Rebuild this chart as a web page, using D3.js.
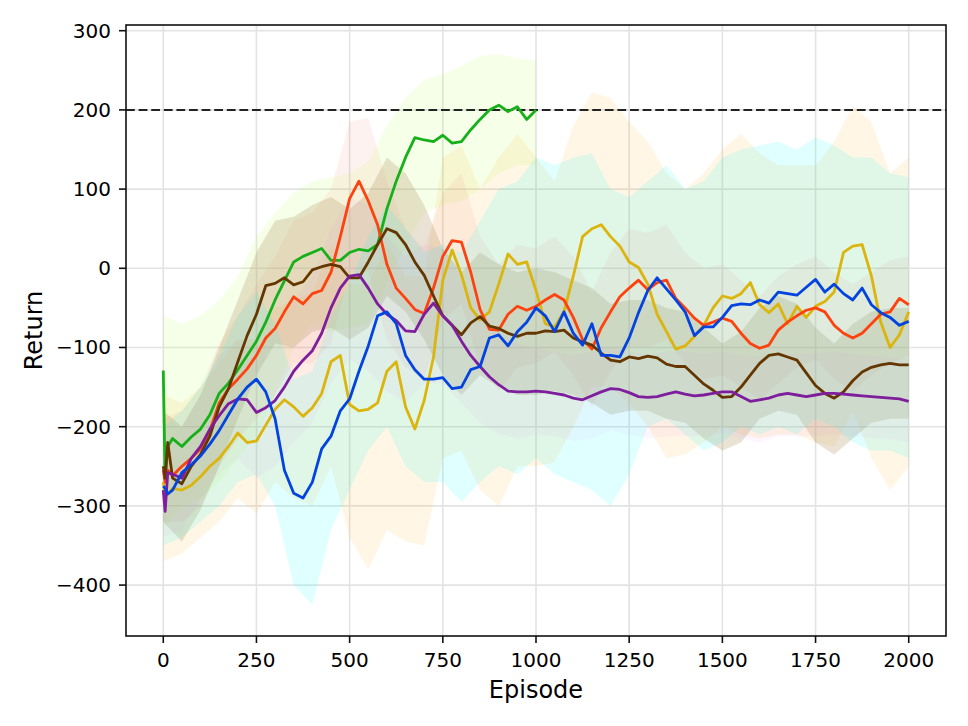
<!DOCTYPE html>
<html>
<head>
<meta charset="utf-8">
<script src="https://cdn.jsdelivr.net/npm/d3@7"></script>
<style>
  body { margin: 0; background: #fff; }
  svg { display: block; font-family: "DejaVu Sans", sans-serif; }
</style>
</head>
<body>
<svg id="chart" width="968" height="726"></svg>
<script>
// Return per episode for six runs, mean line with a shaded spread

const width = 968;
const height = 726;
const margin = { top: 25, right: 22, bottom: 90, left: 126 };

const xTicks = [0, 250, 500, 750, 1000, 1250, 1500, 1750, 2000];
const yTicks = [-400, -300, -200, -100, 0, 100, 200, 300];
const targetReturn = 200;

// x positions of the mean curves and of the band edges
const episodes = [0, 5, 12].concat(d3.range(25, 2001, 25));
const bandEpisodes = d3.range(0, 2001, 50);

const greenMean = [-129, -267, -225, -215, -225, -213, -203, -185, -158, -145, -128, -110, -92, -68, -40, -16, 8, 15, 20, 25, 10, 10, 20, 24, 22, 30, 75, 110, 140, 165, 162, 160, 168, 158, 160, 175, 188, 200, 206, 198, 204, 188, 200];
const redMean = [-255, -270, -255, -262, -250, -240, -228, -205, -170, -152, -140, -127, -110, -88, -76, -55, -36, -45, -32, -28, -5, 40, 88, 110, 85, 55, 5, -25, -38, -52, -57, -25, 15, 35, 33, -5, -52, -77, -78, -58, -48, -53, -48, -40, -33, -40, -62, -90, -102, -75, -55, -36, -25, -15, -27, -18, -15, -38, -50, -63, -72, -68, -63, -67, -82, -95, -101, -97, -78, -68, -60, -53, -50, -55, -72, -82, -88, -82, -70, -58, -55, -38, -46];
const brownMean = [-250, -265, -220, -265, -272, -250, -235, -212, -175, -152, -118, -85, -58, -22, -19, -12, -21, -17, -2, 2, 5, 2, -12, -12, 8, 30, 50, 45, 30, 8, -9, -35, -60, -72, -84, -69, -61, -73, -76, -82, -86, -82, -82, -79, -80, -78, -88, -93, -97, -107, -116, -118, -112, -114, -111, -113, -121, -124, -124, -135, -146, -154, -163, -162, -150, -135, -120, -110, -108, -112, -116, -132, -148, -158, -164, -156, -142, -131, -125, -122, -120, -122, -122];
const goldMean = [-270, -288, -285, -278, -280, -274, -263, -250, -240, -225, -208, -220, -218, -198, -178, -166, -175, -187, -176, -158, -118, -110, -172, -180, -178, -170, -130, -118, -175, -203, -167, -112, -15, 23, -8, -50, -65, -55, -20, 18, 5, 8, -28, -70, -74, -55, -10, 40, 50, 55, 40, 28, 8, 1, -20, -58, -80, -102, -98, -86, -72, -50, -35, -38, -32, -18, -46, -56, -45, -70, -48, -62, -48, -42, -30, 20, 28, 30, -10, -68, -100, -84, -55];
const blueMean = [-275, -278, -285, -280, -258, -248, -237, -222, -205, -185, -165, -150, -140, -156, -190, -255, -284, -290, -270, -228, -212, -180, -165, -130, -98, -60, -55, -70, -110, -128, -140, -140, -138, -152, -150, -128, -124, -88, -84, -98, -80, -68, -50, -60, -80, -55, -82, -97, -70, -110, -110, -112, -88, -56, -28, -12, -26, -40, -55, -85, -74, -74, -62, -47, -45, -46, -40, -44, -30, -32, -34, -24, -14, -30, -20, -32, -40, -25, -46, -56, -62, -72, -67];
const purpleMean = [-280, -307, -258, -260, -265, -240, -225, -203, -186, -171, -165, -166, -182, -176, -167, -150, -130, -116, -104, -82, -50, -25, -10, -8, -25, -45, -58, -66, -79, -80, -58, -44, -60, -72, -92, -110, -124, -137, -147, -155, -156, -156, -155, -156, -158, -160, -164, -166, -161, -156, -152, -153, -157, -162, -163, -162, -159, -156, -159, -161, -160, -158, -156, -156, -162, -168, -166, -164, -160, -158, -160, -162, -160, -158, -158, -159, -160, -161, -162, -163, -164, -165, -168];

// band edges every 50 episodes
const greenUpper = [-60, -70, -60, -40, -10, 40, 70, 95, 110, 115, 120, 135, 180, 215, 238, 245, 255, 268, 270, 265, 262];
const greenLower = [-330, -300, -290, -270, -240, -210, -160, -100, -70, -80, -75, -70, -20, 30, 70, 80, 85, 100, 120, 130, 130];
const redUpper = [-190, -180, -150, -95, -60, -20, 15, 60, 70, 100, 185, 190, 110, 50, 25, 95, 120, 40, 5, 30, 25, 40, 15, -30, 20, 50, 45, 55, 20, 0, 5, -15, -35, -10, 5, 15, -5, -20, -5, 10, 15];
const redLower = [-320, -320, -300, -250, -215, -190, -160, -120, -120, -95, -5, -5, -90, -125, -140, -65, -45, -125, -155, -125, -120, -105, -135, -175, -130, -100, -100, -90, -120, -140, -135, -150, -165, -145, -125, -115, -140, -155, -135, -120, -110];
const brownUpper = [-180, -200, -160, -100, -40, 20, 60, 65, 80, 90, 75, 95, 140, 120, 80, 25, -5, 20, 5, -5, 0, -5, -15, -25, -45, -40, -40, -50, -55, -75, -95, -80, -50, -35, -45, -75, -95, -70, -55, -50, -50];
const brownLower = [-320, -345, -305, -250, -190, -135, -95, -100, -80, -75, -90, -75, -35, -55, -90, -135, -160, -135, -150, -160, -160, -155, -160, -170, -185, -180, -180, -190, -195, -215, -230, -220, -190, -180, -185, -220, -235, -215, -195, -190, -190];
const goldUpper = [-160, -170, -150, -120, -90, -90, -50, -40, -30, 30, -20, -20, 30, -10, -10, 140, 155, 100, 140, 170, 140, 110, 180, 222, 215, 185, 160, 120, 100, 120, 150, 170, 145, 130, 130, 130, 160, 205, 185, 120, 140];
const goldLower = [-370, -360, -340, -320, -290, -310, -270, -290, -300, -250, -340, -380, -330, -345, -350, -240, -230, -280, -300, -250, -250, -245, -200, -150, -150, -170, -200, -240, -235, -220, -200, -210, -215, -210, -210, -220, -225, -180, -240, -280, -250];
const blueUpper = [-200, -180, -150, -110, -60, -30, -70, -140, -130, -60, -20, 40, 80, 50, 20, 30, 20, 60, 100, 110, 140, 130, 140, 145, 100, 90, 110, 130, 100, 110, 140, 150, 155, 160, 150, 165, 155, 140, 140, 120, 115];
const blueLower = [-350, -340, -320, -300, -270, -260, -300, -400, -425, -330, -280, -230, -200, -250, -270, -270, -295, -270, -250, -260, -240, -260, -270, -280, -300, -260, -200, -190, -210, -230, -220, -200, -210, -200, -210, -190, -200, -220, -230, -230, -240];
const purpleUpper = [-220, -200, -160, -110, -90, -100, -80, -40, -10, 50, 90, 80, 40, 15, 30, 25, -10, -50, -80, -95, -100, -105, -110, -105, -100, -105, -110, -105, -105, -108, -105, -110, -112, -108, -108, -108, -105, -108, -110, -112, -115];
const purpleLower = [-340, -330, -290, -260, -240, -265, -250, -220, -195, -145, -115, -130, -155, -170, -145, -145, -170, -195, -210, -215, -210, -212, -218, -215, -205, -210, -215, -212, -212, -212, -208, -215, -220, -212, -212, -212, -210, -212, -214, -216, -220];

const runs = [
  { name: "gold", color: "#dbb40c", band: "#ffa500", bandOpacity: 0.1, mean: goldMean, upper: goldUpper, lower: goldLower },
  { name: "green", color: "#15b01a", band: "#adff2f", bandOpacity: 0.11, mean: greenMean, upper: greenUpper, lower: greenLower },
  { name: "red", color: "#fe420f", band: "#fa8072", bandOpacity: 0.1, mean: redMean, upper: redUpper, lower: redLower },
  { name: "brown", color: "#653700", band: "#b8a070", bandOpacity: 0.3, mean: brownMean, upper: brownUpper, lower: brownLower },
  { name: "purple", color: "#7e1e9c", band: "#ee82ee", bandOpacity: 0.07, mean: purpleMean, upper: purpleUpper, lower: purpleLower },
  { name: "blue", color: "#0343df", band: "#00ffff", bandOpacity: 0.12, mean: blueMean, upper: blueUpper, lower: blueLower },
];

const svg = d3.select("#chart");

const x = d3
  .scaleLinear()
  .domain([-100, 2100])
  .range([margin.left, width - margin.right]);

const y = d3
  .scaleLinear()
  .domain([-464.3, 307.2])
  .range([height - margin.bottom, margin.top]);

const plot = svg.append("g");

// grid
plot
  .append("g")
  .selectAll("line")
  .data(xTicks)
  .enter()
  .append("line")
  .attr("x1", (d) => x(d))
  .attr("x2", (d) => x(d))
  .attr("y1", margin.top)
  .attr("y2", height - margin.bottom)
  .attr("stroke", "#e3e3e3")
  .attr("stroke-width", 1.6);

plot
  .append("g")
  .selectAll("line")
  .data(yTicks)
  .enter()
  .append("line")
  .attr("x1", margin.left)
  .attr("x2", width - margin.right)
  .attr("y1", (d) => y(d))
  .attr("y2", (d) => y(d))
  .attr("stroke", "#e3e3e3")
  .attr("stroke-width", 1.6);

// shaded spread of every run
const area = d3
  .area()
  .x((d) => x(d.ep))
  .y0((d) => y(d.lo))
  .y1((d) => y(d.hi));

runs.forEach((run) => {
  const pts = run.upper.map((hi, i) => ({ ep: bandEpisodes[i], hi: hi, lo: run.lower[i] }));
  plot
    .append("path")
    .attr("d", area(pts))
    .attr("fill", run.band)
    .attr("fill-opacity", run.bandOpacity)
    .attr("stroke", "none");
});

// target line
plot
  .append("line")
  .attr("x1", margin.left)
  .attr("x2", width - margin.right)
  .attr("y1", y(targetReturn))
  .attr("y2", y(targetReturn))
  .attr("stroke", "#222")
  .attr("stroke-width", 2)
  .attr("stroke-dasharray", "8.8,3.8");

const line = d3
  .line()
  .x((d) => x(d.ep))
  .y((d) => y(d.v));

runs.forEach((run) => {
  const pts = run.mean.map((v, i) => ({ ep: episodes[i], v: v }));
  plot
    .append("path")
    .attr("d", line(pts))
    .attr("fill", "none")
    .attr("stroke", run.color)
    .attr("stroke-width", 2.8)
    .attr("stroke-linejoin", "round");
});

// frame
svg
  .append("rect")
  .attr("x", margin.left)
  .attr("y", margin.top)
  .attr("width", width - margin.left - margin.right)
  .attr("height", height - margin.top - margin.bottom)
  .attr("fill", "none")
  .attr("stroke", "#111")
  .attr("stroke-width", 1.6);

// ticks and labels
const fmt = (d) => (d < 0 ? "\u2212" + Math.abs(d) : String(d));

const xt = svg
  .append("g")
  .selectAll("g")
  .data(xTicks)
  .enter()
  .append("g")
  .attr("transform", (d) => "translate(" + x(d) + "," + (height - margin.bottom) + ")");
xt.append("line").attr("y2", 7).attr("stroke", "#111").attr("stroke-width", 1.6);
xt.append("text")
  .attr("y", 31)
  .attr("text-anchor", "middle")
  .attr("font-size", 20)
  .text(fmt);

const yt = svg
  .append("g")
  .selectAll("g")
  .data(yTicks)
  .enter()
  .append("g")
  .attr("transform", (d) => "translate(" + margin.left + "," + y(d) + ")");
yt.append("line").attr("x2", -7).attr("stroke", "#111").attr("stroke-width", 1.6);
yt.append("text")
  .attr("x", -15)
  .attr("y", 7)
  .attr("text-anchor", "end")
  .attr("font-size", 20)
  .text(fmt);

svg
  .append("text")
  .attr("x", (margin.left + width - margin.right) / 2)
  .attr("y", 698)
  .attr("text-anchor", "middle")
  .attr("font-size", 24)
  .text("Episode");

svg
  .append("text")
  .attr("transform", "translate(42," + (margin.top + height - margin.bottom) / 2 + ") rotate(-90)")
  .attr("text-anchor", "middle")
  .attr("font-size", 24)
  .text("Return");
</script>
</body>
</html>
